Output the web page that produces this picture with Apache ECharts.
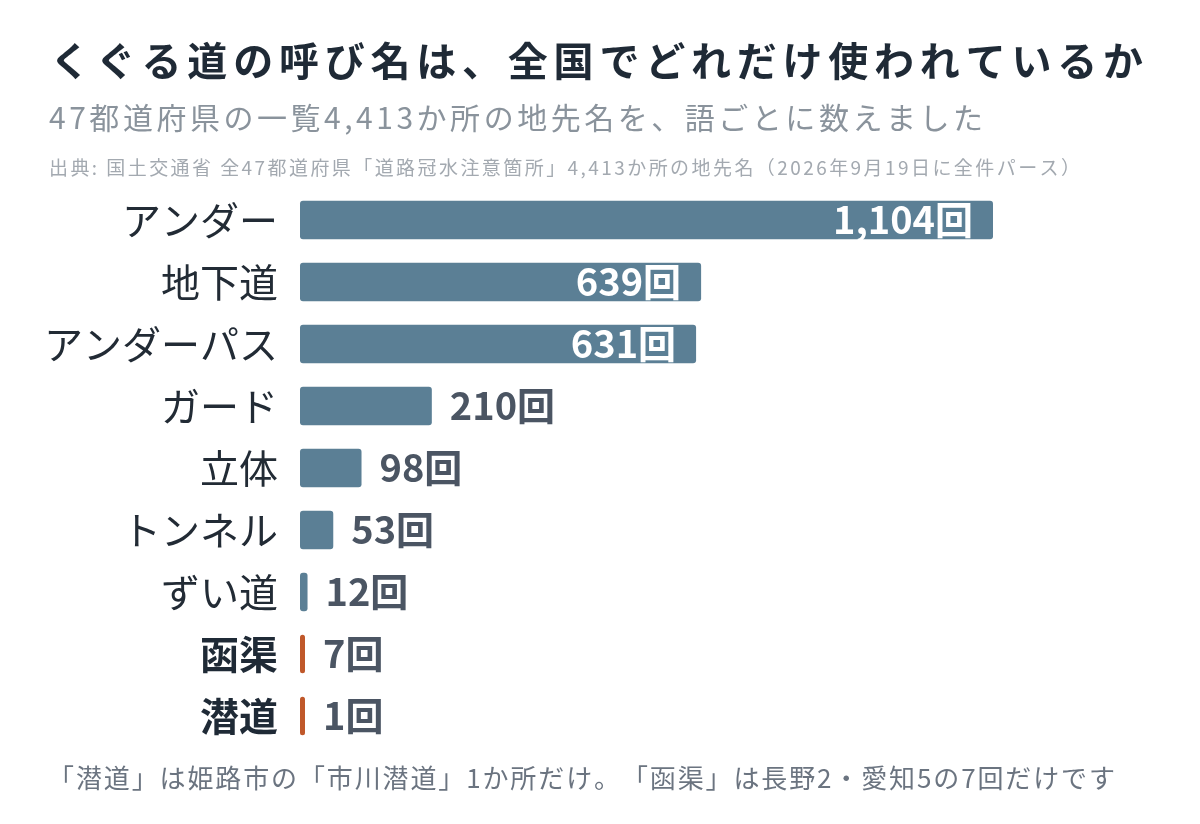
<!DOCTYPE html>
<html>
<head>
<meta charset="utf-8">
<script src="https://cdn.jsdelivr.net/npm/echarts@6/dist/echarts.min.js"></script>
<style>
html,body{margin:0;padding:0;background:#fff;}
#main{width:1200px;height:824px;}
</style>
</head>
<body>
<div id="main"></div>
<script>
const categories = ['アンダー','地下道','アンダーパス','ガード','立体','トンネル','ずい道','函渠','潜道'];
const counts = [1104, 639, 631, 210, 98, 53, 12, 7, 1];
const highlighted = ['函渠','潜道'];

const titleText = 'くぐる道の呼び名は、全国でどれだけ使われているか';
const subtitleText = '47都道府県の一覧4,413か所の地先名を、語ごとに数えました';
const sourceText = '出典: 国土交通省 全47都道府県「道路冠水注意箇所」4,413か所の地先名（2026年9月19日に全件パース）';
const footerText = '「潜道」は姫路市の「市川潜道」1か所だけ。「函渠」は長野2・愛知5の7回だけです';

const FONT = '"Noto Sans CJK JP", "Noto Sans", sans-serif';
const BLUE = '#5b7f95';
const ORANGE = '#c0582a';
const maxVal = Math.max(...counts);

const fmt = v => v.toLocaleString('en-US') + '回';

// letter-spaced text line built from per-character graphic texts
const measureCtx = document.createElement('canvas').getContext('2d');
function spacedLine(str, x0, x1, yMid, size, weight, color) {
  const font = weight + ' ' + size + 'px ' + FONT;
  measureCtx.font = font;
  const chars = Array.from(str);
  const widths = chars.map(c => measureCtx.measureText(c).width);
  const natural = widths.reduce((a, b) => a + b, 0);
  const gap = chars.length > 1 ? (x1 - x0 - natural) / (chars.length - 1) : 0;
  let x = x0;
  const children = chars.map((c, i) => {
    const el = { type: 'text', style: { text: c, x: x, y: yMid, font: font, fill: color, textVerticalAlign: 'middle', textAlign: 'left' } };
    x += widths[i] + gap;
    return el;
  });
  return { type: 'group', silent: true, children: children };
}

const seriesData = counts.map((v, i) => {
  const hi = highlighted.includes(categories[i]);
  const inside = v >= maxVal * 0.5;
  return {
    value: v,
    itemStyle: { color: hi ? ORANGE : BLUE },
    label: inside ? {
      position: 'insideRight', distance: 20, color: '#ffffff'
    } : {
      position: 'right', distance: 18, color: '#4b5563'
    }
  };
});

const chart = echarts.init(document.getElementById('main'), null, {renderer: 'canvas'});
chart.setOption({
  backgroundColor: '#ffffff',
  animation: false,
  graphic: [
    spacedLine(titleText, 50, 1143, 61, 40, 'bold', '#1f2a36'),
    spacedLine(subtitleText, 49, 983, 118, 30, 'normal', '#8a939c'),
    spacedLine(sourceText, 49, 1080, 168, 19, 'normal', '#a3a9b0'),
    spacedLine(footerText, 48, 1115, 778, 26, 'normal', '#6b7480')
  ],
  grid: { left: 300, right: 207, top: 189, height: 558, containLabel: false },
  xAxis: {
    type: 'value', min: 0, max: maxVal,
    show: false
  },
  yAxis: {
    type: 'category', data: categories, inverse: true,
    axisLine: { show: false }, axisTick: { show: false }, splitLine: { show: false },
    axisLabel: {
      margin: 22,
      fontFamily: FONT, fontSize: 39, color: '#222b35',
      formatter: v => highlighted.includes(v) ? '{b|' + v + '}' : v,
      rich: { b: { fontFamily: FONT, fontSize: 39, fontWeight: 'bold', color: '#1f2a36' } }
    }
  },
  series: [{
    type: 'bar',
    data: seriesData,
    barCategoryGap: '38%',
    barMinHeight: 5,
    itemStyle: { borderRadius: 3 },
    label: {
      show: true,
      fontFamily: FONT, fontSize: 38, fontWeight: 'bold',
      formatter: p => fmt(p.value)
    }
  }]
});
</script>
</body>
</html>
